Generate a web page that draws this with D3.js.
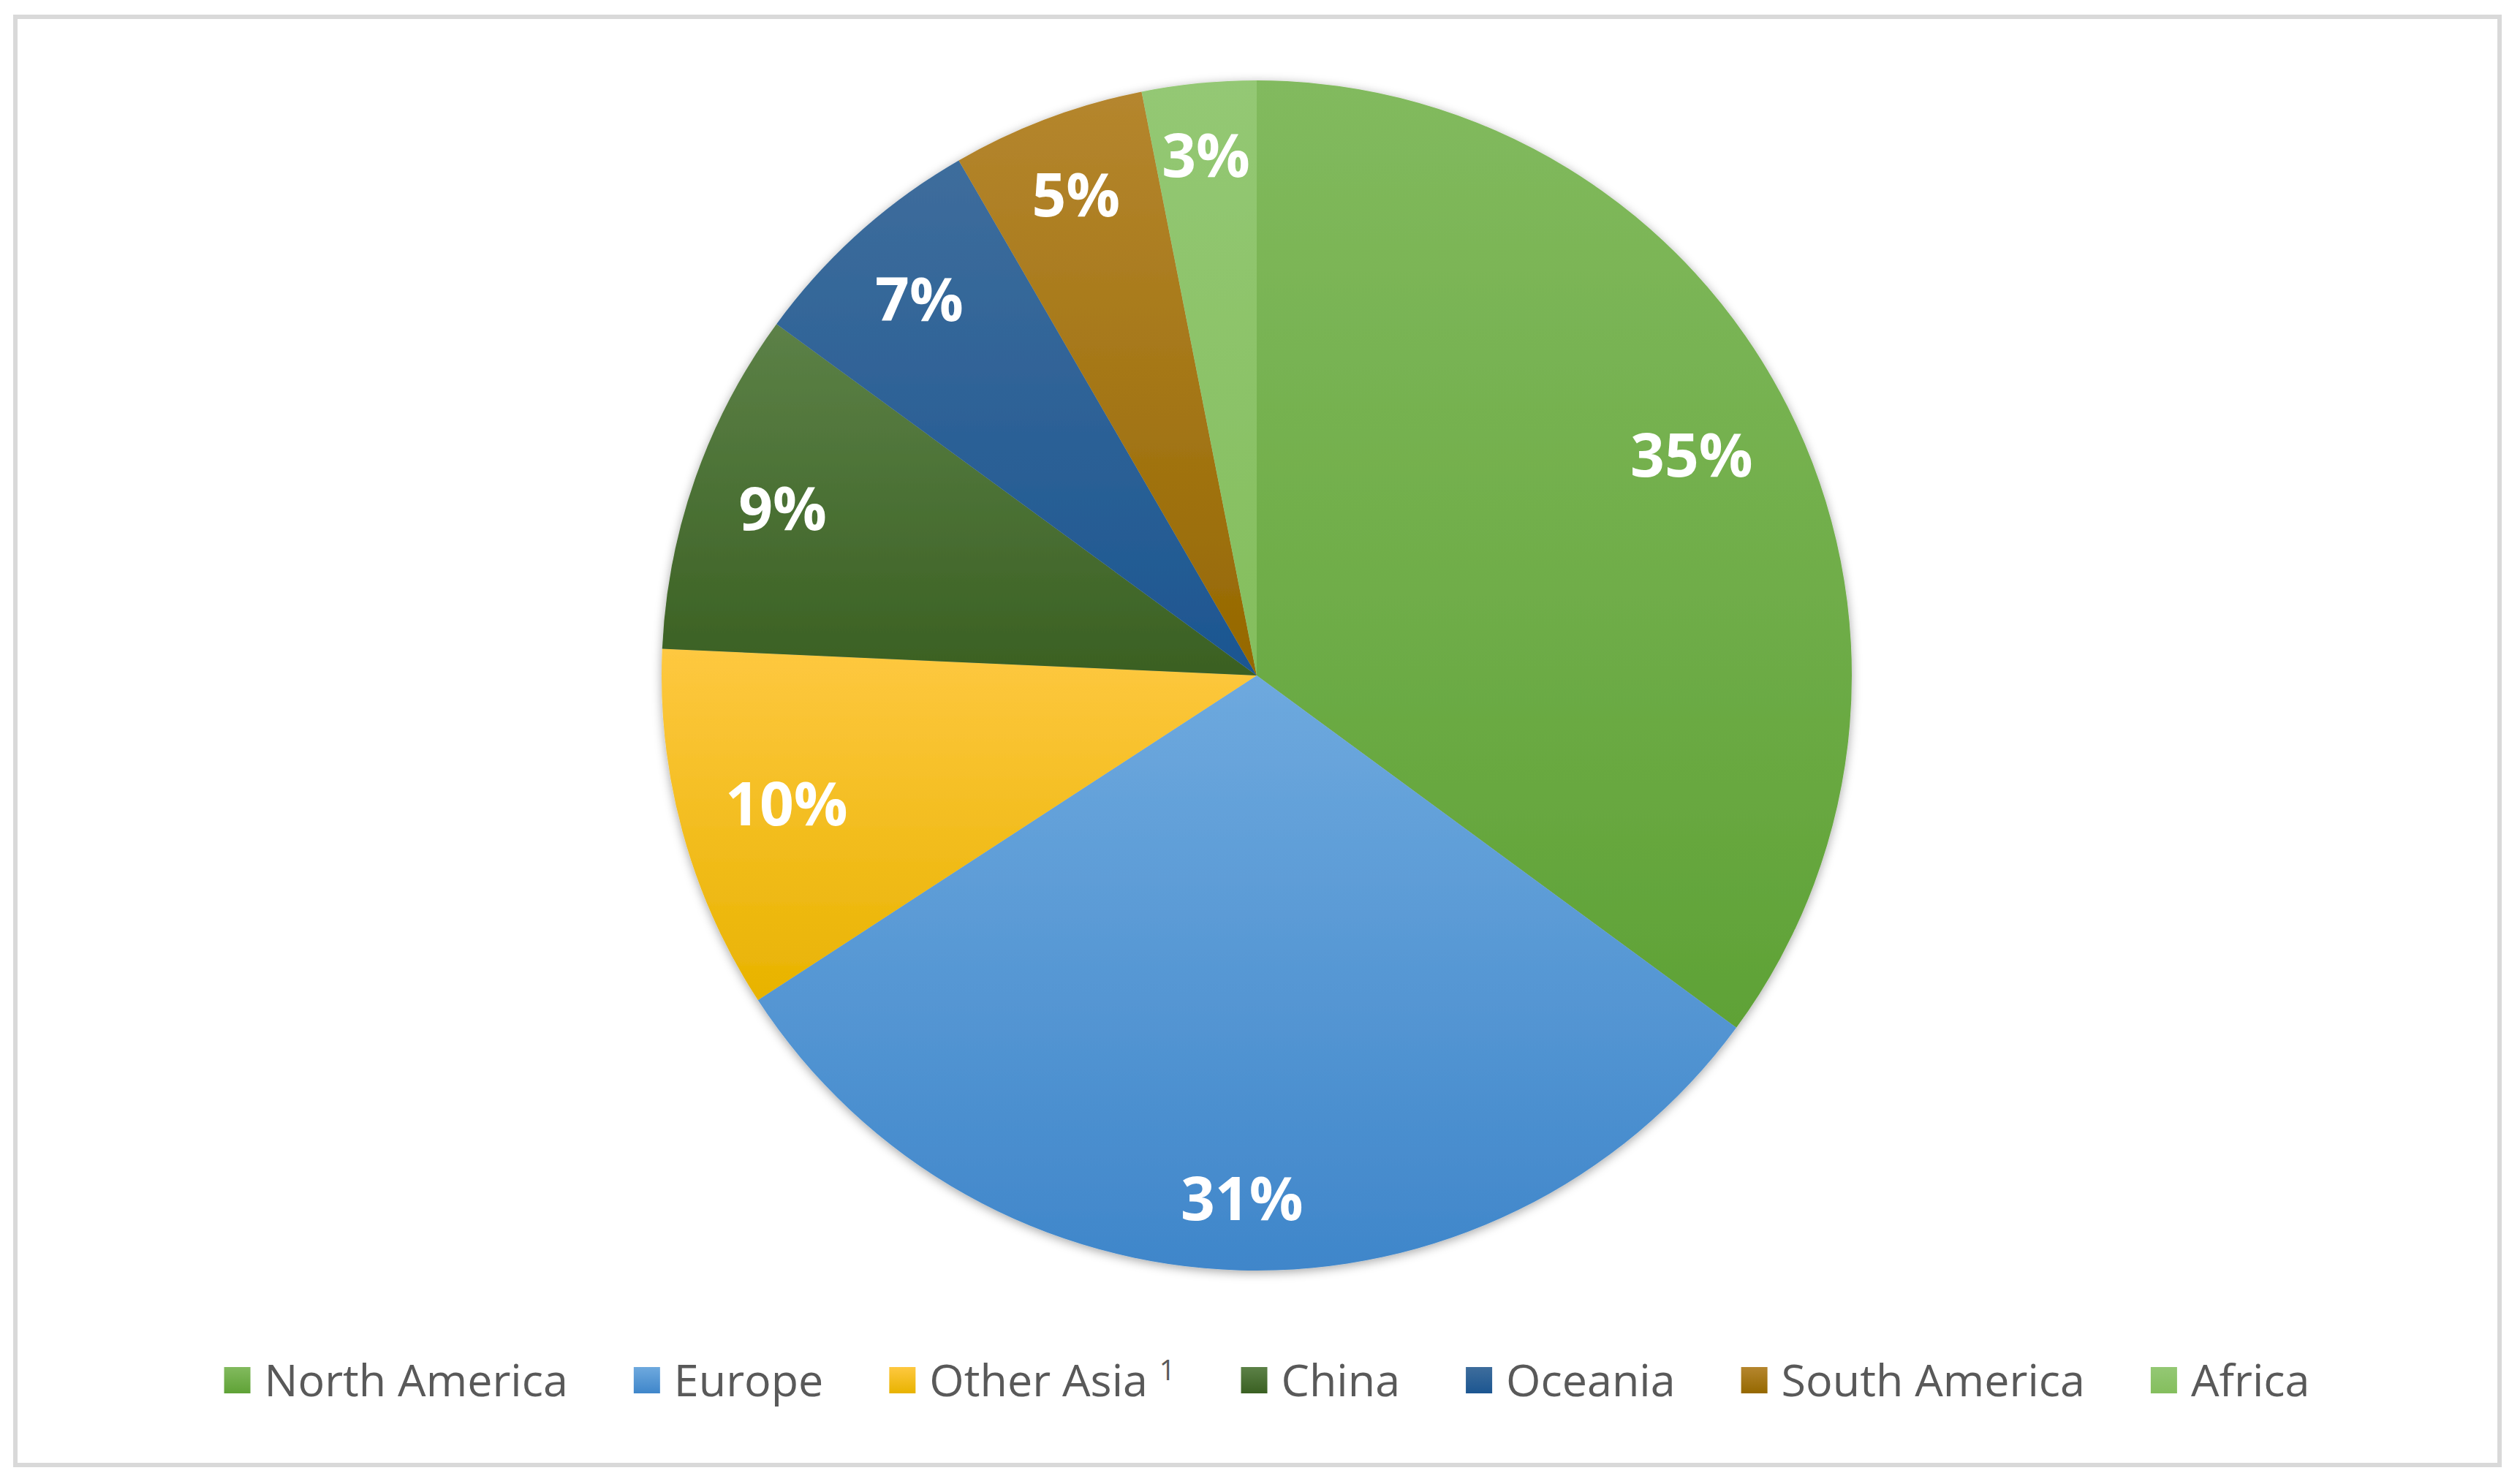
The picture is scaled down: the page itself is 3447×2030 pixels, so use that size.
<!DOCTYPE html>
<html>
<head>
<meta charset="utf-8">
<script src="https://cdn.jsdelivr.net/npm/d3@7"></script>
<style>
  html, body { margin: 0; padding: 0; background: #ffffff; }
  svg { display: block; }
</style>
</head>
<body>
<script>
// ---- data ----
const categories = ["North America", "Europe", "Other Asia", "China", "Oceania", "South America", "Africa"];
const shares = [35.1, 30.75, 9.9, 9.35, 6.6, 5.25, 3.1];
const legendSuperscripts = ["", "", "1", "", "", "", ""];

// ---- styles ----
const topColors    = ["#82ba5e", "#6ea9de", "#fec840", "#5c8147", "#3e6d9c", "#b5862e", "#94c874"];
const bottomColors = ["#5fa236", "#3f86ca", "#e8b300", "#3a6022", "#1c5691", "#956800", "#84be5d"];

const W = 3447, H = 2030;
const cx = 1719, cy = 924, R = 814;
const labelLimit = 752;

const svg = d3.select("body").append("svg").attr("width", W).attr("height", H);
const defs = svg.append("defs");

// frame
svg.append("rect").attr("x", 21).attr("y", 23).attr("width", 3398).attr("height", 1981)
  .attr("fill", "#ffffff").attr("stroke", "#d9d9d9").attr("stroke-width", 6);

// gradients
categories.forEach((c, i) => {
  const g = defs.append("linearGradient").attr("id", "grad" + i)
    .attr("x1", 0).attr("y1", 0).attr("x2", 0).attr("y2", 1);
  g.append("stop").attr("offset", "0%").attr("stop-color", topColors[i]);
  g.append("stop").attr("offset", "100%").attr("stop-color", bottomColors[i]);
});

// shadow
const f = defs.append("filter").attr("id", "shadow")
  .attr("x", "-10%").attr("y", "-10%").attr("width", "120%").attr("height", "120%");
f.append("feDropShadow").attr("dx", 0).attr("dy", 3).attr("stdDeviation", 7)
  .attr("flood-color", "#000000").attr("flood-opacity", 0.35);

const pie = d3.pie().sort(null).value(d => d)(shares);
const arc = d3.arc().innerRadius(0).outerRadius(R);
const total = d3.sum(shares);
const fmt = d3.format(".0%");

const g = svg.append("g").attr("transform", `translate(${cx},${cy})`);
g.append("g").attr("filter", "url(#shadow)")
  .selectAll("path").data(pie).join("path")
  .attr("d", arc)
  .attr("fill", (d, i) => `url(#grad${i})`);

// labels placed "inside end"
const fontSize = 82;
const capH = 0.72 * fontSize;
const labels = g.append("g").selectAll("text").data(pie).join("text")
  .attr("text-anchor", "middle")
  .attr("font-family", "'Open Sans', 'Noto Sans', sans-serif")
  .attr("font-weight", 700)
  .attr("font-size", fontSize)
  .attr("fill", "#ffffff")
  .text(d => fmt(d.value / total));

labels.each(function(d) {
  const w = this.getComputedTextLength() * 0.96;
  const h = capH;
  const a = (d.startAngle + d.endAngle) / 2;
  const ux = Math.sin(a), uy = -Math.cos(a);
  const b = Math.abs(ux) * w / 2 + Math.abs(uy) * h / 2;
  const c = (w * w + h * h) / 4 - labelLimit * labelLimit;
  const r = -b + Math.sqrt(b * b - c);
  d3.select(this).attr("x", r * ux).attr("y", r * uy + h / 2);
});

// legend
const legendY = 1888;
const markerSize = 36;
const markerGap = 19;
const itemGap = 90;
const legend = svg.append("g");
const items = legend.selectAll("g").data(categories).join("g");
items.append("rect")
  .attr("width", markerSize).attr("height", markerSize)
  .attr("y", legendY - markerSize / 2)
  .attr("fill", (d, i) => `url(#grad${i})`);
const texts = items.append("text")
  .attr("x", markerSize + markerGap)
  .attr("y", legendY + 22)
  .attr("font-family", "'Open Sans', 'Noto Sans', sans-serif")
  .attr("font-size", 61)
  .attr("fill", "#595959");
texts.append("tspan").text(d => d);
texts.each(function(d, i) {
  if (legendSuperscripts[i]) {
    d3.select(this).append("tspan").text("\u00a0");
    d3.select(this).append("tspan").attr("font-size", 38).attr("dy", -22).text(legendSuperscripts[i]);
  }
});
let xpos = 0;
items.each(function(d, i) {
  const tw = d3.select(this).select("text").node().getComputedTextLength();
  const iw = markerSize + markerGap + tw;
  d3.select(this).attr("transform", `translate(${xpos},0)`);
  xpos += iw + itemGap;
});
const totalW = xpos - itemGap;
legend.attr("transform", `translate(${1733 - totalW / 2},0)`);
</script>
</body>
</html>
